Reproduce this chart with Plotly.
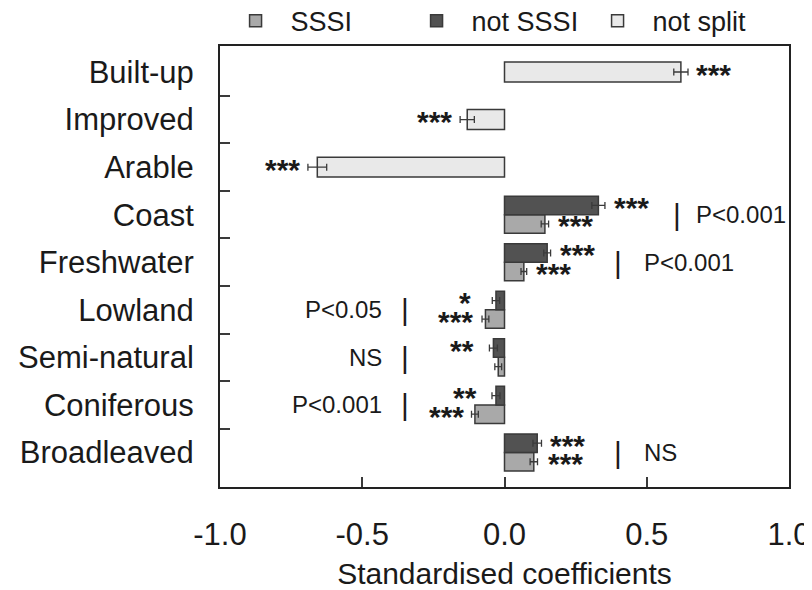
import plotly.graph_objects as go

# ---------------- data ----------------
categories = ["Built-up", "Improved", "Arable", "Coast", "Freshwater",
              "Lowland", "Semi-natural", "Coniferous", "Broadleaved"]

unsplit_categories = ["Built-up", "Improved", "Arable"]
unsplit_values = [0.62, -0.131, -0.658]
unsplit_errors = [0.025, 0.025, 0.033]
unsplit_sig = ["***", "***", "***"]

split_categories = ["Coast", "Freshwater", "Lowland", "Semi-natural", "Coniferous", "Broadleaved"]
sssi_values = [0.142, 0.068, -0.067, -0.022, -0.104, 0.103]
sssi_errors = [0.013, 0.010, 0.012, 0.012, 0.012, 0.013]
sssi_sig = ["***", "***", "***", "", "***", "***"]
not_sssi_values = [0.330, 0.150, -0.030, -0.039, -0.030, 0.115]
not_sssi_errors = [0.023, 0.012, 0.013, 0.014, 0.014, 0.015]
not_sssi_sig = ["***", "***", "*", "**", "**", "***"]
comparison_labels = ["P<0.001", "P<0.001", "P<0.05", "NS", "P<0.001", "NS"]

x_tick_values = [-1.0, -0.5, 0.0, 0.5, 1.0]
x_tick_labels = ["-1.0", "-0.5", "0.0", "0.5", "1.0"]

# ---------------- layout / style settings ----------------
FONT = "Liberation Sans, Arial, sans-serif"
TXT = "#1a1a1a"
EDGE = "#3a3a3a"
C_SSSI = "#a9a9a9"
C_NOT = "#525252"
C_UNSPLIT = "#e9e9e9"
BAR_W = 0.39
UNSPLIT_W = 0.42
STAR_YSHIFT = -2
comparison_bar_x = [0.605, 0.40, -0.35, -0.35, -0.35, 0.40]
comparison_text_x = [0.665, 0.485, -0.422, -0.422, -0.422, 0.485]
not_sssi_star_gap = [7, 7, 19, 13, 13, 7]
sssi_star_gap = [7, 7, 7, 7, 6, 8]
unsplit_star_gap = [6, 6, 6]

pos = {c: i for i, c in enumerate(categories)}
unsplit_y = [pos[c] for c in unsplit_categories]
split_y = [pos[c] for c in split_categories]

fig = go.Figure()

err_style = dict(type="data", color=EDGE, thickness=1.3, width=3.5, visible=True)

fig.add_trace(go.Bar(
    name="SSSI", orientation="h", x=sssi_values, y=split_y,
    width=BAR_W, offset=0,
    marker=dict(color=C_SSSI, line=dict(color=EDGE, width=1.5)),
    error_x=dict(array=sssi_errors, **err_style),
))
fig.add_trace(go.Bar(
    name="not SSSI", orientation="h", x=not_sssi_values, y=split_y,
    width=BAR_W, offset=-BAR_W,
    marker=dict(color=C_NOT, line=dict(color=EDGE, width=1.5)),
    error_x=dict(array=not_sssi_errors, **err_style),
))
fig.add_trace(go.Bar(
    name="not split", orientation="h", x=unsplit_values, y=unsplit_y,
    width=UNSPLIT_W, offset=-UNSPLIT_W / 2,
    marker=dict(color=C_UNSPLIT, line=dict(color=EDGE, width=1.5)),
    error_x=dict(array=unsplit_errors, **err_style),
))

annotations = []


def add_stars(values, errors, sigs, ys, gaps):
    for v, e, s, yy, g in zip(values, errors, sigs, ys, gaps):
        if not s:
            continue
        positive = v >= 0
        annotations.append(dict(x=v + e if positive else v - e, y=yy, xref="x", yref="y",
                                text="<b>" + s + "</b>", showarrow=False,
                                xanchor="left" if positive else "right", yanchor="middle",
                                xshift=g if positive else -g, yshift=STAR_YSHIFT,
                                font=dict(family=FONT, size=30, color=TXT)))


add_stars(unsplit_values, unsplit_errors, unsplit_sig, unsplit_y, unsplit_star_gap)
add_stars(not_sssi_values, not_sssi_errors, not_sssi_sig,
          [y - BAR_W / 2 for y in split_y], not_sssi_star_gap)
add_stars(sssi_values, sssi_errors, sssi_sig,
          [y + BAR_W / 2 for y in split_y], sssi_star_gap)

for yy, lab, bx, tx in zip(split_y, comparison_labels, comparison_bar_x, comparison_text_x):
    annotations.append(dict(x=bx, y=yy, xref="x", yref="y", text="|", showarrow=False,
                            xanchor="center", yanchor="middle",
                            font=dict(family=FONT, size=30, color=TXT)))
    annotations.append(dict(x=tx, y=yy, xref="x", yref="y", text=lab, showarrow=False,
                            xanchor="left" if tx > 0 else "right", yanchor="middle",
                            font=dict(family=FONT, size=24, color=TXT)))

# the page adds an 8px body margin, so the figure is 8px smaller than the window
fig.update_layout(
    width=804, height=582,
    margin=dict(l=212, r=23, t=38, b=103, autoexpand=False),
    paper_bgcolor="white", plot_bgcolor="white",
    barmode="overlay",
    font=dict(family=FONT, color=TXT),
    showlegend=True,
    legend=dict(orientation="h", x=0.001, xanchor="left", y=1.056, yanchor="middle",
                xref="paper", yref="paper",
                entrywidth=106, entrywidthmode="pixels", itemwidth=60,
                font=dict(family=FONT, size=27, color=TXT),
                bgcolor="rgba(0,0,0,0)", borderwidth=0, traceorder="normal"),
    annotations=annotations,
    xaxis=dict(
        range=[-1.0, 1.0], tickmode="array", tickvals=x_tick_values, ticktext=x_tick_labels,
        ticks="inside", ticklen=10, tickwidth=1.5, tickcolor=EDGE,
        showline=True, linecolor="#222222", linewidth=2, mirror=True,
        showgrid=False, zeroline=False, automargin=False,
        tickfont=dict(family=FONT, size=31, color=TXT), ticklabelstandoff=19,
        title=dict(text="Standardised coefficients", standoff=21,
                   font=dict(family=FONT, size=30, color=TXT)),
    ),
    yaxis=dict(
        range=[len(categories) - 1 + 0.726, -0.547],
        tickmode="array", tickvals=list(range(len(categories))), ticktext=categories,
        ticks="", showline=True, linecolor="#222222", linewidth=2, mirror=True,
        showgrid=False, zeroline=False, automargin=False,
        tickfont=dict(family=FONT, size=31, color=TXT), ticklabelstandoff=18,
        minor=dict(tickmode="array", tickvals=[i + 0.5 for i in range(len(categories) - 1)],
                   ticks="inside", ticklen=10, tickwidth=1.5, tickcolor=EDGE, showgrid=False),
    ),
)

fig.write_html("out.html")
